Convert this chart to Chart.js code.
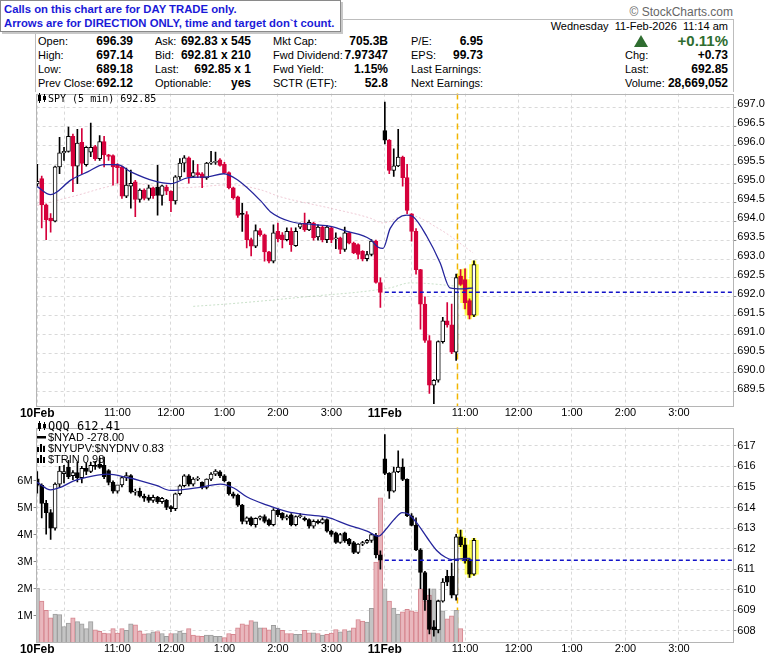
<!DOCTYPE html>
<html>
<head>
<meta charset="utf-8">
<script src="https://cdn.jsdelivr.net/npm/chart.js@4.4.1/dist/chart.umd.min.js"></script>
<style>
  body { margin: 0; background: #fff; width: 780px; height: 659px; overflow: hidden; position: relative;
         font-family: 'Liberation Sans', Arial, sans-serif; color: #000; }
  canvas { position: absolute; left: 0; }
  #calls { position: absolute; left: 0; top: 0; width: 333px; height: 28px; padding: 1px 3px;
           border: 1px solid #8a8a8a; box-shadow: 2px 2px 0 #c8c8c8; background: #fff; z-index: 5;
           color: #1a1ad8; font: bold 11.3px 'Liberation Sans', Arial, sans-serif; line-height: 14px; white-space: nowrap; }
  #hdr { position: absolute; left: 35px; top: 19px; width: 697px; height: 72px; border: 1px solid #bdbdbd; border-bottom: none; }
  .t { position: absolute; font-size: 11px; line-height: 14px; white-space: nowrap; }
  .v { position: absolute; font-size: 12px; font-weight: bold; line-height: 14px; white-space: nowrap; text-align: right; }
  .lg { position: absolute; white-space: nowrap; z-index: 4; }
  .mono { font-family: 'DejaVu Sans Mono', monospace; }
  #copy { position: absolute; right: 47px; top: 5px; font-size: 12px; color: #666; }
  #tri { position: absolute; left: 634px; top: 35px; width: 0; height: 0;
         border-left: 7px solid transparent; border-right: 7px solid transparent; border-bottom: 12px solid #2f6d30; }
</style>
</head>
<body>
<div id="calls">Calls on this chart are for DAY TRADE only.<br>Arrows are for DIRECTION ONLY, time and target don`t count.</div>
<div id="copy">© StockCharts.com</div>
<div id="hdr"></div>

<div class="t" style="right:52px;top:19px;">Wednesday&nbsp; 11-Feb-2026&nbsp; 11:14 am</div>

<div class="t" style="left:38px;top:34px;">Open:</div>
<div class="v" style="right:647px;top:34px;">696.39</div>
<div class="t" style="left:38px;top:48px;">High:</div>
<div class="v" style="right:647px;top:48px;">697.14</div>
<div class="t" style="left:38px;top:62px;">Low:</div>
<div class="v" style="right:647px;top:62px;">689.18</div>
<div class="t" style="left:38px;top:76px;">Prev Close:</div>
<div class="v" style="right:647px;top:76px;">692.12</div>

<div class="t" style="left:155px;top:34px;">Ask:</div>
<div class="v" style="right:529px;top:34px;">692.83 x 545</div>
<div class="t" style="left:155px;top:48px;">Bid:</div>
<div class="v" style="right:529px;top:48px;">692.81 x 210</div>
<div class="t" style="left:155px;top:62px;">Last:</div>
<div class="v" style="right:529px;top:62px;">692.85 x 1</div>
<div class="t" style="left:155px;top:76px;">Optionable:</div>
<div class="v" style="right:529px;top:76px;">yes</div>

<div class="t" style="left:273px;top:34px;">Mkt Cap:</div>
<div class="v" style="right:392px;top:34px;">705.3B</div>
<div class="t" style="left:273px;top:48px;">Fwd Dividend:</div>
<div class="v" style="right:392px;top:48px;">7.97347</div>
<div class="t" style="left:273px;top:62px;">Fwd Yield:</div>
<div class="v" style="right:392px;top:62px;">1.15%</div>
<div class="t" style="left:273px;top:76px;">SCTR (ETF):</div>
<div class="v" style="right:392px;top:76px;">52.8</div>

<div class="t" style="left:411px;top:34px;">P/E:</div>
<div class="v" style="right:297px;top:34px;">6.95</div>
<div class="t" style="left:411px;top:48px;">EPS:</div>
<div class="v" style="right:297px;top:48px;">99.73</div>
<div class="t" style="left:411px;top:62px;">Last Earnings:</div>
<div class="t" style="left:411px;top:76px;">Next Earnings:</div>

<div id="tri"></div>
<div class="v" style="right:52px;top:32px;font-size:15px;line-height:18px;color:#2f6d30;">+0.11%</div>
<div class="t" style="left:625px;top:48px;">Chg:</div>
<div class="v" style="right:52px;top:48px;">+0.73</div>
<div class="t" style="left:625px;top:62px;">Last:</div>
<div class="v" style="right:52px;top:62px;">692.85</div>
<div class="t" style="left:625px;top:76px;">Volume:</div>
<div class="v" style="right:52px;top:76px;">28,669,052</div>

<canvas id="spy" width="780" height="336" style="top:86px;"></canvas>
<canvas id="qqq" width="780" height="239" style="top:420px;"></canvas>

<div class="lg mono" style="left:37px;top:92px;font-size:10px;line-height:13px;">
  <svg width="11" height="10" style="vertical-align:-1px"><line x1="2.5" y1="0" x2="2.5" y2="10" stroke="#000"/><rect x="1" y="2" width="3" height="6" fill="#000"/><line x1="7.5" y1="1" x2="7.5" y2="9" stroke="#000"/><rect x="6" y="3" width="3" height="4" fill="#000"/></svg>SPY (5 min) 692.85</div>

<div class="lg mono" style="left:37px;top:420px;font-size:12px;line-height:13px;">
  <svg width="11" height="10" style="vertical-align:-1px"><line x1="2.5" y1="0" x2="2.5" y2="10" stroke="#000"/><rect x="1" y="2" width="3" height="6" fill="#000"/><line x1="7.5" y1="1" x2="7.5" y2="9" stroke="#000"/><rect x="6" y="3" width="3" height="4" fill="#000"/></svg>QQQ 612.41</div>
<div class="lg" style="left:37px;top:431px;font-size:11px;line-height:12px;">
  <svg width="11" height="8"><rect x="0" y="3" width="9" height="2.5" fill="#000"/></svg>$NYAD -278.00</div>
<div class="lg" style="left:37px;top:442px;font-size:11px;line-height:12px;">
  <svg width="11" height="9"><rect x="0" y="4" width="2" height="5" fill="#000"/><rect x="3" y="1" width="2" height="8" fill="#000"/><rect x="6" y="3" width="2" height="6" fill="#000"/></svg>$NYUPV:$NYDNV 0.83</div>
<div class="lg" style="left:37px;top:453px;font-size:11px;line-height:12px;">
  <svg width="11" height="9"><rect x="0" y="4" width="2" height="5" fill="#000"/><rect x="3" y="1" width="2" height="8" fill="#000"/><rect x="6" y="3" width="2" height="6" fill="#000"/></svg>$TRIN 0.98</div>

<script>
// time axis: one slot per 5-minute bar, 78 bars per session, two sessions
const tickSlots  = [0, 6, 18, 30, 42, 54, 66, 78, 84, 96, 108, 120, 132, 144];
const tickLabels = ['10Feb', '', '11:00', '12:00', '1:00', '2:00', '3:00', '11Feb', '', '11:00', '12:00', '1:00', '2:00', '3:00'];

// SPY 5 min bars (10 Feb 9:30 .. 11 Feb 11:10)
const spyOpen = [694.98,695.12,694.43,694.08,694.00,695.43,695.80,695.84,696.24,695.45,
  696.08,695.49,695.82,695.97,695.65,696.10,695.75,695.73,695.47,695.43,
  694.66,694.92,695.04,694.57,694.82,694.60,694.88,694.90,694.68,694.90,
  694.79,694.53,695.17,695.53,695.67,695.18,695.28,695.25,695.14,695.53,
  695.55,695.62,695.50,695.28,694.88,694.64,694.19,694.17,693.51,693.34,
  693.75,693.64,693.19,692.94,693.73,693.64,693.51,693.73,693.35,693.84,
  693.95,693.77,693.95,693.58,693.84,693.51,693.82,693.53,693.56,693.25,
  693.69,693.42,693.38,693.20,693.01,693.12,693.47,692.38,
  696.39,696.14,695.34,695.46,695.69,695.15,694.19,693.73,692.72,691.81,
  690.85,689.67,689.80,690.82,691.37,691.26,690.54,692.55,692.46,691.90,691.52];
const spyHigh = [695.50,695.19,694.45,694.20,695.45,696.21,695.95,696.48,696.30,696.42,
  696.44,695.97,696.59,696.00,696.26,696.24,695.76,695.75,695.52,695.45,
  695.40,695.35,695.08,694.85,694.85,694.95,694.90,695.47,694.95,694.95,
  694.80,695.20,695.65,695.73,695.70,695.60,695.50,695.28,695.55,695.84,
  695.82,695.65,695.55,695.30,694.90,694.66,694.47,694.25,693.55,693.90,
  693.80,693.66,693.20,693.90,693.95,693.70,693.82,693.82,693.82,693.95,
  694.21,694.03,693.97,693.90,693.86,693.89,693.86,693.69,693.58,693.84,
  693.71,693.45,693.40,693.22,693.20,693.51,693.50,692.50,
  697.14,696.15,695.91,696.42,695.72,695.50,694.20,693.80,692.73,692.00,
  690.98,689.82,690.84,691.46,691.85,691.81,692.60,692.72,692.74,691.95,692.95];
const spyLow = [694.92,693.82,693.51,693.71,693.98,695.25,695.60,695.82,694.78,694.99,
  695.25,695.45,695.70,695.60,695.60,695.43,695.60,694.95,695.00,694.60,
  694.62,694.34,694.12,694.50,694.56,694.55,694.60,694.16,694.42,694.70,
  694.25,694.45,695.10,695.30,695.00,695.15,695.15,694.88,695.10,695.50,
  695.50,695.45,695.25,694.85,694.58,694.10,693.73,693.29,693.08,693.30,
  693.60,692.94,692.90,692.90,693.45,693.29,693.48,693.20,693.33,693.80,
  693.73,693.75,693.50,693.50,693.45,693.43,693.43,693.27,693.14,693.20,
  693.40,693.14,693.00,692.95,692.95,693.08,692.36,691.72,
  696.04,695.25,695.18,695.44,694.92,694.20,693.47,692.60,691.15,690.80,
  689.45,689.18,689.75,690.78,691.20,690.50,690.32,692.30,691.68,691.42,691.48];
const spyClose = [695.05,694.43,694.03,694.01,695.43,695.80,695.84,696.24,695.45,696.06,
  695.52,695.95,695.95,695.65,696.10,695.75,695.71,695.43,695.41,694.66,
  694.95,695.00,694.57,694.82,694.60,694.88,694.67,694.68,694.93,694.79,
  694.53,695.17,695.53,695.67,695.17,695.28,695.22,695.14,695.53,695.56,
  695.58,695.47,695.28,694.88,694.62,694.15,694.18,693.51,693.34,693.75,
  693.64,693.19,692.94,693.69,693.53,693.51,693.73,693.38,693.73,693.93,
  693.77,693.97,693.56,693.84,693.51,693.84,693.51,693.53,693.25,693.69,
  693.42,693.16,693.12,693.01,693.12,693.47,692.38,692.12,
  696.14,695.34,695.46,695.69,695.15,694.28,693.73,692.72,691.81,690.85,
  689.67,689.80,690.82,691.37,691.26,690.54,692.51,692.33,691.85,691.52,692.85];
const spyTicks = [689.5, 690.0, 690.5, 691.0, 691.5, 692.0, 692.5, 693.0, 693.5, 694.0, 694.5, 695.0, 695.5, 696.0, 696.5, 697.0];
const spyPrevClose = 692.12;
// overlay averages (slot, price)
const spyMaSlots = [0, 3, 7.6, 11.3, 15, 18, 21, 26.2, 30, 33.7, 38.2, 41.8, 44.9, 50.1, 52.3, 56.8, 62, 65.8, 69.5, 74.7, 76.5, 77.6, 79.2, 82.9, 84.3, 87.4, 90.4, 92.6, 95.5, 97.8];
const spyMaVals  = [694.91, 694.70, 695.09, 695.30, 695.49, 695.49, 695.30, 695.06, 694.99, 695.14, 695.17, 695.25, 695.09, 694.54, 694.25, 693.99, 693.91, 693.86, 693.73, 693.52, 693.31, 693.28, 693.81, 694.16, 694.12, 693.60, 692.90, 692.24, 692.21, 692.24];
const spyMa2Slots = [0, 7.6, 21, 32, 43.4, 50, 54.6, 65.8, 74.7, 77.6, 82.9, 90.4, 97.8];
const spyMa2Vals  = [694.41, 694.64, 694.99, 694.88, 694.96, 694.83, 694.64, 694.34, 694.08, 693.95, 694.17, 693.78, 693.16];
const spyMa3Slots = [35, 43.4, 60, 79.2, 83.7, 97.8];
const spyMa3Vals  = [691.75, 691.82, 692.00, 692.24, 692.37, 692.24];

// QQQ 5 min bars
const qqqOpen = [615.40,615.08,614.20,613.75,613.00,615.14,615.65,615.95,615.55,615.70,
  615.45,615.90,615.75,616.05,616.10,616.05,615.80,615.22,614.80,615.10,
  615.46,615.55,614.75,614.80,614.55,614.50,614.35,614.50,614.28,614.35,
  614.05,613.95,614.67,615.06,615.54,615.14,615.38,615.22,614.98,615.38,
  615.62,615.74,615.54,615.22,614.67,614.59,614.12,613.33,613.50,613.17,
  613.48,613.56,613.40,613.17,613.88,613.72,613.48,613.64,613.17,613.56,
  613.48,613.41,613.09,613.33,613.25,613.41,612.85,612.77,612.30,612.77,
  612.46,612.30,611.82,612.22,612.30,612.40,612.65,611.70,
  616.37,615.66,614.79,615.74,615.97,615.37,613.60,613.13,611.94,610.84,
  609.50,608.20,608.05,609.45,610.66,610.66,609.74,612.58,612.19,611.47,610.76];
const qqqHigh = [615.75,615.15,614.35,613.90,615.20,616.00,616.05,616.30,615.80,616.20,
  616.00,616.15,616.20,616.25,616.40,616.45,615.85,615.30,615.00,615.50,
  615.70,615.60,614.90,614.95,614.65,614.60,614.60,614.55,614.50,614.40,
  614.10,614.70,615.10,615.60,615.60,615.45,615.50,615.25,615.40,615.70,
  615.85,615.80,615.60,615.25,614.75,614.65,614.15,613.55,613.55,613.50,
  613.60,613.65,613.45,613.95,613.95,613.75,613.65,613.70,613.60,613.70,
  613.55,613.45,613.40,613.40,613.50,613.45,612.90,612.80,612.75,612.80,
  612.50,612.35,612.25,612.35,612.45,612.75,612.75,611.90,
  617.55,615.70,615.97,616.76,616.37,615.40,613.70,613.50,612.00,610.90,
  610.05,608.50,609.50,610.55,610.95,611.30,612.70,612.90,612.50,611.50,612.50];
const qqqLow = [614.70,613.50,612.70,612.45,612.90,615.00,615.20,615.40,615.35,615.25,
  615.20,615.60,615.70,615.85,615.90,615.40,615.10,614.70,614.70,615.00,
  615.30,614.70,614.60,614.50,614.30,614.25,614.25,614.20,614.20,613.90,
  613.80,613.85,614.60,615.00,615.05,615.05,615.30,614.90,614.90,615.30,
  615.55,615.45,615.25,614.60,614.45,614.05,613.20,613.20,613.10,613.05,
  613.40,613.25,613.10,613.10,613.55,613.40,613.40,613.10,613.10,613.50,
  613.35,613.00,613.00,613.20,613.20,612.80,612.60,612.25,612.25,612.30,
  612.15,611.75,611.75,612.15,612.25,612.30,611.55,611.00,
  615.60,614.44,614.75,615.70,615.30,613.55,613.10,611.90,610.05,609.00,
  607.85,607.75,607.90,609.40,610.20,609.60,609.50,612.10,611.30,610.60,610.70];
const qqqClose = [615.08,614.20,613.75,613.00,615.14,615.77,615.75,615.50,615.70,615.45,
  615.90,615.75,616.05,616.00,615.95,615.50,615.22,614.80,615.10,615.46,
  615.55,614.75,614.80,614.55,614.45,614.35,614.50,614.28,614.45,614.00,
  613.95,614.67,615.06,615.54,615.14,615.38,615.40,614.98,615.38,615.62,
  615.77,615.54,615.30,614.67,614.55,614.12,613.33,613.50,613.17,613.48,
  613.56,613.33,613.17,613.88,613.64,613.48,613.56,613.17,613.56,613.60,
  613.41,613.09,613.33,613.25,613.41,612.85,612.69,612.30,612.69,612.38,
  612.22,611.82,612.22,612.30,612.40,612.69,611.70,611.44,
  615.66,614.79,615.74,615.97,615.37,613.60,613.13,611.94,610.84,609.50,
  608.07,608.05,609.45,610.37,610.37,609.74,612.58,612.19,611.40,610.76,612.41];
const qqqTicks = [608, 609, 610, 611, 612, 613, 614, 615, 616, 617];
const qqqPrevClose = 611.44;
const qqqMaSlots = [0, 3, 5.2, 8.2, 12.6, 15.7, 20.2, 23.2, 26.9, 29.9, 32.2, 36.6, 41.1, 44.1, 47.1, 51.6, 56.1, 60.6, 65, 69.5, 74, 76.6, 78.2, 80, 81.9, 83.3, 85.2, 87.5, 89.7, 91.6, 93.1, 94.9, 97.2];
const qqqMaVals  = [615.22, 614.86, 614.98, 615.30, 615.54, 615.62, 615.46, 615.30, 615.06, 614.83, 614.86, 614.98, 615.14, 614.95, 614.51, 614.12, 613.80, 613.64, 613.53, 613.17, 612.85, 612.61, 612.93, 613.40, 613.75, 613.68, 613.24, 612.53, 611.90, 611.58, 611.47, 611.50, 611.53];

// volume in millions, u = grey bar, d = pink bar
const qqqVol = [2.02,1.54,1.20,0.92,1.06,1.04,0.60,0.73,0.92,0.78,
  0.70,0.52,0.78,0.48,0.42,0.36,0.34,0.52,0.36,0.52,
  0.46,0.70,0.66,0.43,0.33,0.34,0.40,0.41,0.34,0.24,
  0.34,0.34,0.43,0.36,0.52,0.28,0.25,0.24,0.28,0.28,
  0.24,0.24,0.19,0.34,0.31,0.55,0.70,0.66,0.82,0.77,
  0.55,0.55,0.48,0.64,0.54,0.46,0.34,0.34,0.31,0.31,
  0.46,0.37,0.37,0.34,0.28,0.31,0.36,0.49,0.40,0.49,
  0.43,0.55,0.86,0.80,0.76,1.27,2.99,5.37,2.00,1.54,
  1.28,1.06,1.14,1.24,1.18,1.14,2.00,1.54,1.76,2.00,
  1.57,1.18,0.88,1.00,1.20,0.52];
const qqqVolDir = ('uddduuuudu' + 'uuuddddddd' + 'uuddduuduu' + 'duuudddduu' + 'uudddddddu' +
  'udduuddduu' + 'ddududddud' + 'uddduuddud' + 'uudddddddu' + 'uuddud').split('');
const volTicks = [1, 2, 3, 4, 5, 6];

const highlightFrom = 95;   // last bars marked in yellow
const markerSlot = 94.3;    // yellow dashed time marker

const FONT = "'Liberation Sans', Arial, sans-serif";
const RED = '#d5003b';
const GRID = '#d9d9d9';
const X_MIN = -0.15, X_MAX = 156.2;

Chart.defaults.font.family = FONT;
Chart.defaults.font.size = 11;
Chart.defaults.color = '#000';

function candleSets(O, H, L, C, useRed) {
  const wick = [], body = [], hiW = [], hiB = [];
  const wickCol = [], bodyFill = [], bodyLine = [];
  for (let i = 0; i < C.length; i++) {
    const prev = i > 0 ? C[i - 1] : O[i];
    const col = useRed && C[i] < prev ? RED : '#000000';
    wick.push({ x: i, y: [L[i], H[i]] });
    body.push({ x: i, y: [O[i], C[i]] });
    wickCol.push(col);
    bodyFill.push(C[i] < O[i] ? col : '#ffffff');
    bodyLine.push(col);
    if (i >= highlightFrom) {
      hiW.push({ x: i, y: [L[i], H[i]] });
      hiB.push({ x: i, y: [Math.min(O[i], C[i]), Math.max(O[i], C[i])] });
    }
  }
  const hl = 'rgba(255,255,0,0.65)';
  return [
    { type: 'bar', data: hiW, grouped: false, barThickness: 4, backgroundColor: hl, borderWidth: 0, order: 8 },
    { type: 'bar', data: hiB, grouped: false, barThickness: 9, backgroundColor: hl, borderWidth: 0, minBarLength: 4, order: 8 },
    { type: 'bar', data: wick, grouped: false, barThickness: 1, backgroundColor: wickCol, borderWidth: 0, order: 6 },
    { type: 'bar', data: body, grouped: false, barThickness: 4, backgroundColor: bodyFill, borderColor: bodyLine,
      borderWidth: 1, borderSkipped: false, minBarLength: 1, order: 5 }
  ];
}

function lineSet(slots, vals, color, width, dash, order) {
  return { type: 'line', data: slots.map((s, i) => ({ x: s, y: vals[i] })), borderColor: color, borderWidth: width,
           borderDash: dash, pointRadius: 0, cubicInterpolationMode: 'monotone', fill: false, order: order };
}

function prevCloseSet(v) {
  return { type: 'line', data: [{ x: 78, y: v }, { x: X_MAX, y: v }], borderColor: '#1212c8', borderWidth: 1.5,
           borderDash: [4, 3], pointRadius: 0, order: 1 };
}

function xScale(h) {
  return {
    type: 'linear', min: X_MIN, max: X_MAX, offset: false,
    afterBuildTicks: s => { s.ticks = tickSlots.map(v => ({ value: v })); },
    afterFit: s => { s.height = h; },
    ticks: { autoSkip: false, maxRotation: 0, padding: 0,
             callback: (v, i) => tickLabels[i],
             font: c => ({ family: FONT, size: tickLabels[c.index] && tickLabels[c.index].indexOf('Feb') > 0 ? 12 : 11,
                           weight: tickLabels[c.index] && tickLabels[c.index].indexOf('Feb') > 0 ? 'bold' : 'normal' }) },
    grid: { color: GRID, drawTicks: false, offset: false },
    border: { display: false, dash: [3, 3] }
  };
}

function priceScale(min, max, ticks, digits, lo) {
  return {
    type: 'linear', position: 'right', min: min, max: max,
    afterBuildTicks: s => { s.ticks = ticks.map(v => ({ value: v })); },
    afterFit: s => { s.width = 46.7; },
    ticks: { padding: 1, labelOffset: lo, callback: v => v.toFixed(digits) },
    grid: { color: GRID, tickLength: 3, tickColor: '#888' },
    border: { display: false, dash: [3, 3] }
  };
}

const framePlugin = {
  id: 'frame',
  beforeDatasetsDraw(chart) {
    const { ctx, chartArea: a, scales } = chart;
    const px = scales.x.getPixelForValue(markerSlot);
    ctx.save();
    ctx.strokeStyle = '#f2b600';
    ctx.lineWidth = 1.5;
    ctx.setLineDash([6, 4]);
    ctx.beginPath();
    ctx.moveTo(px, a.top);
    ctx.lineTo(px, a.bottom);
    ctx.stroke();
    ctx.restore();
  },
  afterDraw(chart) {
    const { ctx, chartArea: a } = chart;
    ctx.save();
    ctx.strokeStyle = '#b5b5b5';
    ctx.lineWidth = 1;
    ctx.strokeRect(Math.round(a.left) - 0.5, Math.round(a.top) + 0.5, Math.round(a.width), Math.round(a.height) - 1);
    ctx.restore();
  }
};

// SPY panel
new Chart(document.getElementById('spy'), {
  type: 'bar',
  data: {
    datasets: [
      lineSet(spyMa2Slots, spyMa2Vals, 'rgba(225,160,180,0.55)', 1, [2, 2], 9),
      lineSet(spyMa3Slots, spyMa3Vals, 'rgba(150,195,150,0.5)', 1, [2, 2], 9),
      ...candleSets(spyOpen, spyHigh, spyLow, spyClose, true),
      lineSet(spyMaSlots, spyMaVals, '#25259c', 1.3, [], 2),
      prevCloseSet(spyPrevClose)
    ]
  },
  options: {
    responsive: false, animation: false,
    layout: { padding: { left: 36.6, top: 5, right: 0, bottom: 0 } },
    plugins: { legend: { display: false }, tooltip: { enabled: false } },
    scales: {
      x: xScale(15.5),
      y: priceScale(689.107, 697.366, spyTicks, 1, -3)
    }
  },
  plugins: [framePlugin]
});

// QQQ panel with volume
const volData = qqqVol.map((v, i) => ({ x: i, y: v }));
new Chart(document.getElementById('qqq'), {
  type: 'bar',
  data: {
    datasets: [
      { type: 'bar', data: volData, yAxisID: 'yVol', grouped: false, barThickness: 4.5,
        backgroundColor: qqqVolDir.map(d => d === 'd' ? '#e9b7bd' : '#c4c4c4'),
        borderColor: qqqVolDir.map(d => d === 'd' ? '#d6868f' : '#9e9e9e'),
        borderWidth: 1, borderSkipped: 'start', order: 10 },
      ...candleSets(qqqOpen, qqqHigh, qqqLow, qqqClose, false),
      lineSet(qqqMaSlots, qqqMaVals, '#25259c', 1.3, [], 2),
      prevCloseSet(qqqPrevClose)
    ]
  },
  options: {
    responsive: false, animation: false,
    layout: { padding: { left: 0, top: 2, right: 0, bottom: 0 } },
    plugins: { legend: { display: false }, tooltip: { enabled: false } },
    scales: {
      x: xScale(16.3),
      y: priceScale(607.427, 617.886, qqqTicks, 0, 0),
      yVol: {
        type: 'linear', position: 'left', min: 0, max: 7.97,
        afterBuildTicks: s => { s.ticks = volTicks.map(v => ({ value: v })); },
        afterFit: s => { s.width = 36.6; },
        ticks: { padding: 1, callback: v => v + 'M' },
        grid: { drawOnChartArea: false, tickLength: 3, tickColor: '#888' },
        border: { display: false }
      }
    }
  },
  plugins: [framePlugin]
});
</script>
</body>
</html>
